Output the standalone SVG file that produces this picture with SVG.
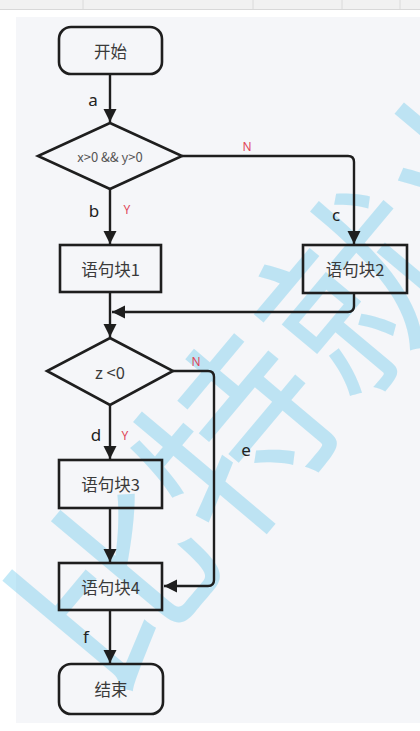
<svg xmlns="http://www.w3.org/2000/svg" width="420" height="731" viewBox="0 0 420 731">
<defs>
<style>
.n{fill:none;stroke:#1e1e1e;stroke-width:2.6}
.t{font-family:"Noto Sans CJK SC","Noto Sans",sans-serif;font-size:16.5px;fill:#3a3a3a;text-anchor:middle;dominant-baseline:central}
.l{font-family:"Noto Sans","Liberation Sans",sans-serif;font-size:17px;fill:#222;text-anchor:middle;dominant-baseline:central}
.r{font-family:"Noto Sans","Liberation Sans",sans-serif;font-size:12px;fill:#e0485a;text-anchor:middle;dominant-baseline:central}
.c{fill:none;stroke:#1e1e1e;stroke-width:2.4;stroke-linejoin:round}
</style>
<marker id="ah" viewBox="0 0 10 10" refX="10" refY="5" markerWidth="5.5" markerHeight="5.5" orient="auto" markerUnits="strokeWidth">
<path d="M0,0 L10,5 L0,10 z" fill="#1e1e1e"/>
</marker>
</defs>
<rect x="0" y="0" width="420" height="731" fill="#ffffff"/>
<rect x="0" y="0" width="420" height="10" fill="#f1f1f1"/>
<line x1="0" y1="9.5" x2="420" y2="9.5" stroke="#d8d8d8"/>
<g stroke="#dadada"><line x1="83" y1="0" x2="83" y2="9"/><line x1="253" y1="0" x2="253" y2="9"/><line x1="342" y1="0" x2="342" y2="9"/><line x1="400" y1="0" x2="400" y2="9"/></g>
<rect x="16" y="17" width="404" height="706" fill="#f5f6f9"/>

<g id="watermark" opacity="0.4">
<text x="-95" y="0" transform="translate(105,575) rotate(-50)" font-family="'Noto Sans CJK SC',sans-serif" font-size="190" fill="#6cc9ec" dominant-baseline="central">比特就业</text>
</g>

<g id="connectors">
<line class="c" x1="110" y1="74" x2="110" y2="122" marker-end="url(#ah)"/>
<line class="c" x1="110" y1="189" x2="110" y2="244" marker-end="url(#ah)"/>
<path class="c" d="M182,156 H348 Q354,156 354,162 V244" marker-end="url(#ah)"/>
<path class="c" d="M354,293 V306 Q354,312 348,312 H112" marker-end="url(#ah)"/>
<line class="c" x1="110" y1="292" x2="110" y2="337" marker-end="url(#ah)"/>
<line class="c" x1="110" y1="405" x2="110" y2="459" marker-end="url(#ah)"/>
<path class="c" d="M173,371 H208 Q214,371 214,377 V580 Q214,586 208,586 H164" marker-end="url(#ah)"/>
<line class="c" x1="110" y1="508" x2="110" y2="562" marker-end="url(#ah)"/>
<line class="c" x1="110" y1="610" x2="110" y2="663" marker-end="url(#ah)"/>
<text class="l" x="93" y="99">a</text>
<text class="l" x="94" y="210">b</text>
<text class="r" x="127" y="209">Y</text>
<text class="r" x="247" y="146">N</text>
<text class="l" x="336" y="214">c</text>
<text class="r" x="196" y="361">N</text>
<text class="l" x="96" y="434">d</text>
<text class="r" x="125" y="435">Y</text>
<text class="l" x="246" y="449">e</text>
<text class="l" x="86" y="636">f</text>
</g>

<g id="start"><rect class="n" x="59" y="27" width="103" height="47" rx="12"/><text class="t" x="110.5" y="50.5">开始</text></g>
<g id="cond1"><polygon class="n" points="110,123 182,156 110,189 38,156"/><text class="t" x="110" y="156" style="font-size:13px;fill:#555">x&gt;0 &amp;&amp; y&gt;0</text></g>
<g id="block1"><rect class="n" x="60" y="245" width="101" height="47"/><text class="t" x="110.5" y="268.5">语句块1</text></g>
<g id="block2"><rect class="n" x="303" y="245" width="104" height="48"/><text class="t" x="355" y="269">语句块2</text></g>
<g id="cond2"><polygon class="n" points="110,338 173,371 110,405 47,371"/><text class="t" x="110" y="372">z &lt;0</text></g>
<g id="block3"><rect class="n" x="59" y="460" width="103" height="48"/><text class="t" x="110.5" y="484">语句块3</text></g>
<g id="block4"><rect class="n" x="59" y="563" width="103" height="47"/><text class="t" x="110.5" y="586.5">语句块4</text></g>
<g id="end"><rect class="n" x="59" y="664" width="104" height="50" rx="12"/><text class="t" x="111" y="689">结束</text></g>
</svg>
